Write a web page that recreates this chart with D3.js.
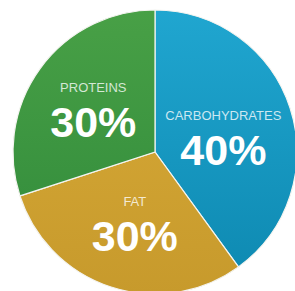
<!DOCTYPE html>
<html><head><meta charset="utf-8">
<script src="https://cdn.jsdelivr.net/npm/d3@7"></script>
<style>html,body{margin:0;padding:0;background:#fff;overflow:hidden}</style>
</head><body>
<svg id="chart" width="295" height="291"></svg>
<script>
const categories = ["CARBOHYDRATES", "FAT", "PROTEINS"];
const values = [40, 30, 30];
const labels = ["40%", "30%", "30%"];
const colorsTop = ["#20a6d0", "#d9ab38", "#48a046"];
const colorsBottom = ["#0d88b0", "#c79a2c", "#2f893a"];

const svg = d3.select("#chart");
const cx = 155, cy = 152, r = 142;
const defs = svg.append("defs");
categories.forEach((c, i) => {
  const g = defs.append("linearGradient").attr("id", "g" + i)
    .attr("gradientUnits", "userSpaceOnUse")
    .attr("x1", 0).attr("y1", -r).attr("x2", 0).attr("y2", r);
  g.append("stop").attr("offset", "0%").attr("stop-color", colorsTop[i]);
  g.append("stop").attr("offset", "100%").attr("stop-color", colorsBottom[i]);
});

const pie = d3.pie().sort(null).value(d => d)(values);
const arc = d3.arc().innerRadius(0).outerRadius(r);
const labelArc = d3.arc().innerRadius(75).outerRadius(75);

const g = svg.append("g").attr("transform", `translate(${cx},${cy})`);
g.selectAll("path").data(pie).join("path")
  .attr("d", arc)
  .attr("fill", (d, i) => `url(#g${i})`)
  .attr("stroke", "#f4f4f0").attr("stroke-width", 1.2);

// layout nudges for label blocks (drawing layout, not data)
const nudge = [[-3, 6], [3, -2], [-1, -1]];
const lg = g.selectAll("g.lab").data(pie).join("g").attr("class", "lab")
  .attr("transform", (d, i) => { const [x, y] = labelArc.centroid(d); return `translate(${x + nudge[i][0]},${y + 8 + nudge[i][1]})`; });
lg.append("text")
  .attr("text-anchor", "middle").attr("y", -23)
  .attr("font-family", "Liberation Sans, Arial, sans-serif")
  .attr("font-size", 13).attr("fill", "#fff").attr("fill-opacity", 0.78)
  .text((d, i) => categories[i]);
lg.append("text")
  .attr("text-anchor", "middle").attr("y", 22)
  .attr("font-family", "Liberation Sans, Arial, sans-serif")
  .attr("font-weight", "bold")
  .attr("font-size", 43).attr("fill", "#fff")
  .text((d, i) => labels[i]);
</script>
</body></html>
